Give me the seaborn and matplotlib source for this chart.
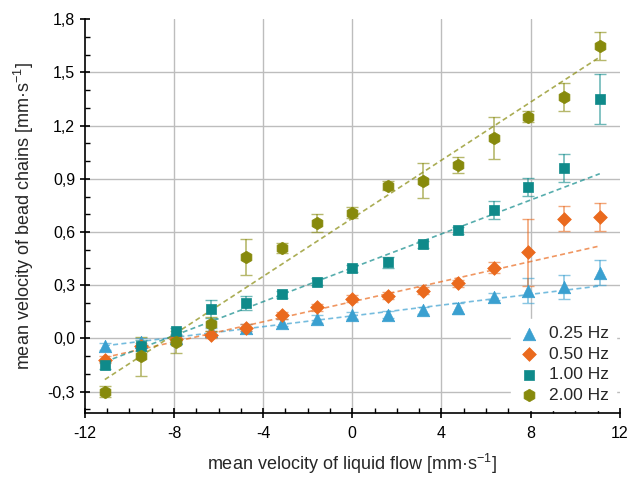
import numpy as np
import matplotlib
matplotlib.use("Agg")
import matplotlib.pyplot as plt
import seaborn as sns
from matplotlib.ticker import MultipleLocator, FuncFormatter

# --- Daten ---
flow = [-11.1, -9.5, -7.9, -6.35, -4.75, -3.15, -1.6, 0.0, 1.6, 3.15, 4.75, 6.35, 7.9, 9.5, 11.1]

v_025 = [-0.045, -0.02, 0.005, 0.04, 0.06, 0.09, 0.11, 0.13, 0.135, 0.16, 0.17, 0.235, 0.27, 0.29, 0.37]
e_025 = [0.02, 0.02, 0.02, 0.02, 0.02, 0.02, 0.02, 0.02, 0.02, 0.02, 0.03, 0.02, 0.07, 0.07, 0.07]

v_050 = [-0.12, -0.045, -0.005, 0.02, 0.06, 0.13, 0.175, 0.225, 0.24, 0.27, 0.31, 0.40, 0.485, 0.675, 0.685]
e_050 = [0.02, 0.02, 0.02, 0.02, 0.02, 0.02, 0.02, 0.02, 0.02, 0.02, 0.02, 0.03, 0.19, 0.07, 0.08]

v_100 = [-0.15, -0.04, 0.04, 0.165, 0.20, 0.25, 0.32, 0.395, 0.43, 0.53, 0.61, 0.725, 0.855, 0.96, 1.35]
e_100 = [0.02, 0.03, 0.02, 0.05, 0.04, 0.02, 0.02, 0.02, 0.03, 0.02, 0.02, 0.05, 0.05, 0.08, 0.14]

v_200 = [-0.30, -0.10, -0.02, 0.08, 0.46, 0.51, 0.65, 0.71, 0.86, 0.89, 0.98, 1.13, 1.25, 1.36, 1.65]
e_200 = [0.03, 0.11, 0.06, 0.04, 0.10, 0.03, 0.05, 0.03, 0.025, 0.10, 0.045, 0.12, 0.03, 0.08, 0.08]

labels = ["0.25 Hz", "0.50 Hz", "1.00 Hz", "2.00 Hz"]
values = [v_025, v_050, v_100, v_200]
errors = [e_025, e_050, e_100, e_200]
colors = ["#3aa0d0", "#ea6a1e", "#0f8a8a", "#878a0c"]
markers = ["^", "D", "s", "h"]
msizes = [9, 7, 7, 9]

sns.set_theme(style="ticks")
plt.rcParams["font.family"] = ["Liberation Sans", "DejaVu Sans"]
plt.rcParams["mathtext.fontset"] = "custom"
plt.rcParams["mathtext.rm"] = "Liberation Sans"
plt.rcParams["mathtext.it"] = "Liberation Sans"

fig = plt.figure(figsize=(6.28, 4.78), dpi=100)
ax = fig.add_axes([0.135, 0.136, 0.852, 0.824])

x = np.array(flow)
for y, err, c, m, ms, lab in zip(values, errors, colors, markers, msizes, labels):
    y = np.array(y)
    err = np.array(err)
    # gewichtete lineare Regression (Gewicht = 1/Fehler)
    k, d = np.polyfit(x, y, 1, w=1 / err)
    xf = np.array([x.min(), x.max()])
    ax.plot(xf, k * xf + d, color=c, lw=1.2, ls=(0, (3, 2)), alpha=0.7, zorder=2)
    ax.errorbar(x, y, yerr=err, fmt="none", ecolor=c, alpha=0.6, elinewidth=1.2,
                capsize=4, capthick=1.0, zorder=3)
    sns.scatterplot(x=x, y=y, ax=ax, marker=m, s=ms ** 2, color=c, edgecolor=c,
                    linewidth=0.5, label=lab, zorder=4)

ax.set_xlim(-12, 12)
ax.set_ylim(-0.42, 1.8)
ax.xaxis.set_major_locator(MultipleLocator(4))
ax.xaxis.set_minor_locator(MultipleLocator(1))
ax.yaxis.set_major_locator(MultipleLocator(0.3))
ax.yaxis.set_minor_locator(MultipleLocator(0.1))
ax.yaxis.set_major_formatter(FuncFormatter(lambda v, p: f"{v:.1f}".replace(".", ",").replace("-0,0", "0,0")))
ax.xaxis.set_major_formatter(FuncFormatter(lambda v, p: f"{v:.0f}"))

ax.grid(True, which="major", color="#bdbdbd", lw=1.0)
ax.set_axisbelow(True)
fig.canvas.draw()
for t, gl in zip(ax.get_xticks(), ax.xaxis.get_gridlines()):
    if abs(t) >= 12:
        gl.set_visible(False)
for t, gl in zip(ax.get_yticks(), ax.yaxis.get_gridlines()):
    if t > 1.75:
        gl.set_visible(False)

sns.despine(ax=ax)
for s in ["left", "bottom"]:
    ax.spines[s].set_color("black")
    ax.spines[s].set_linewidth(1.2)
ax.tick_params(which="major", direction="inout", length=7, width=1.2, labelsize=11.5, colors="black")
ax.tick_params(which="minor", direction="in", length=3.5, width=1.0, colors="black")
ax.tick_params(axis="x", pad=6)

ax.set_xlabel("mean velocity of liquid flow [mm·s$^{\\mathregular{-1}}$]", fontsize=13, labelpad=8)
ax.set_ylabel("mean velocity of bead chains [mm·s$^{\\mathregular{-1}}$]", fontsize=13, labelpad=8)

leg = ax.legend(loc="lower right", fontsize=12.5, frameon=True, handletextpad=0.6,
                labelspacing=0.3, borderaxespad=0.2, handlelength=1.2, fancybox=False)
leg.get_frame().set_facecolor("white")
leg.get_frame().set_edgecolor("white")
leg.get_frame().set_alpha(1.0)

fig.savefig("out.png", dpi=100)
